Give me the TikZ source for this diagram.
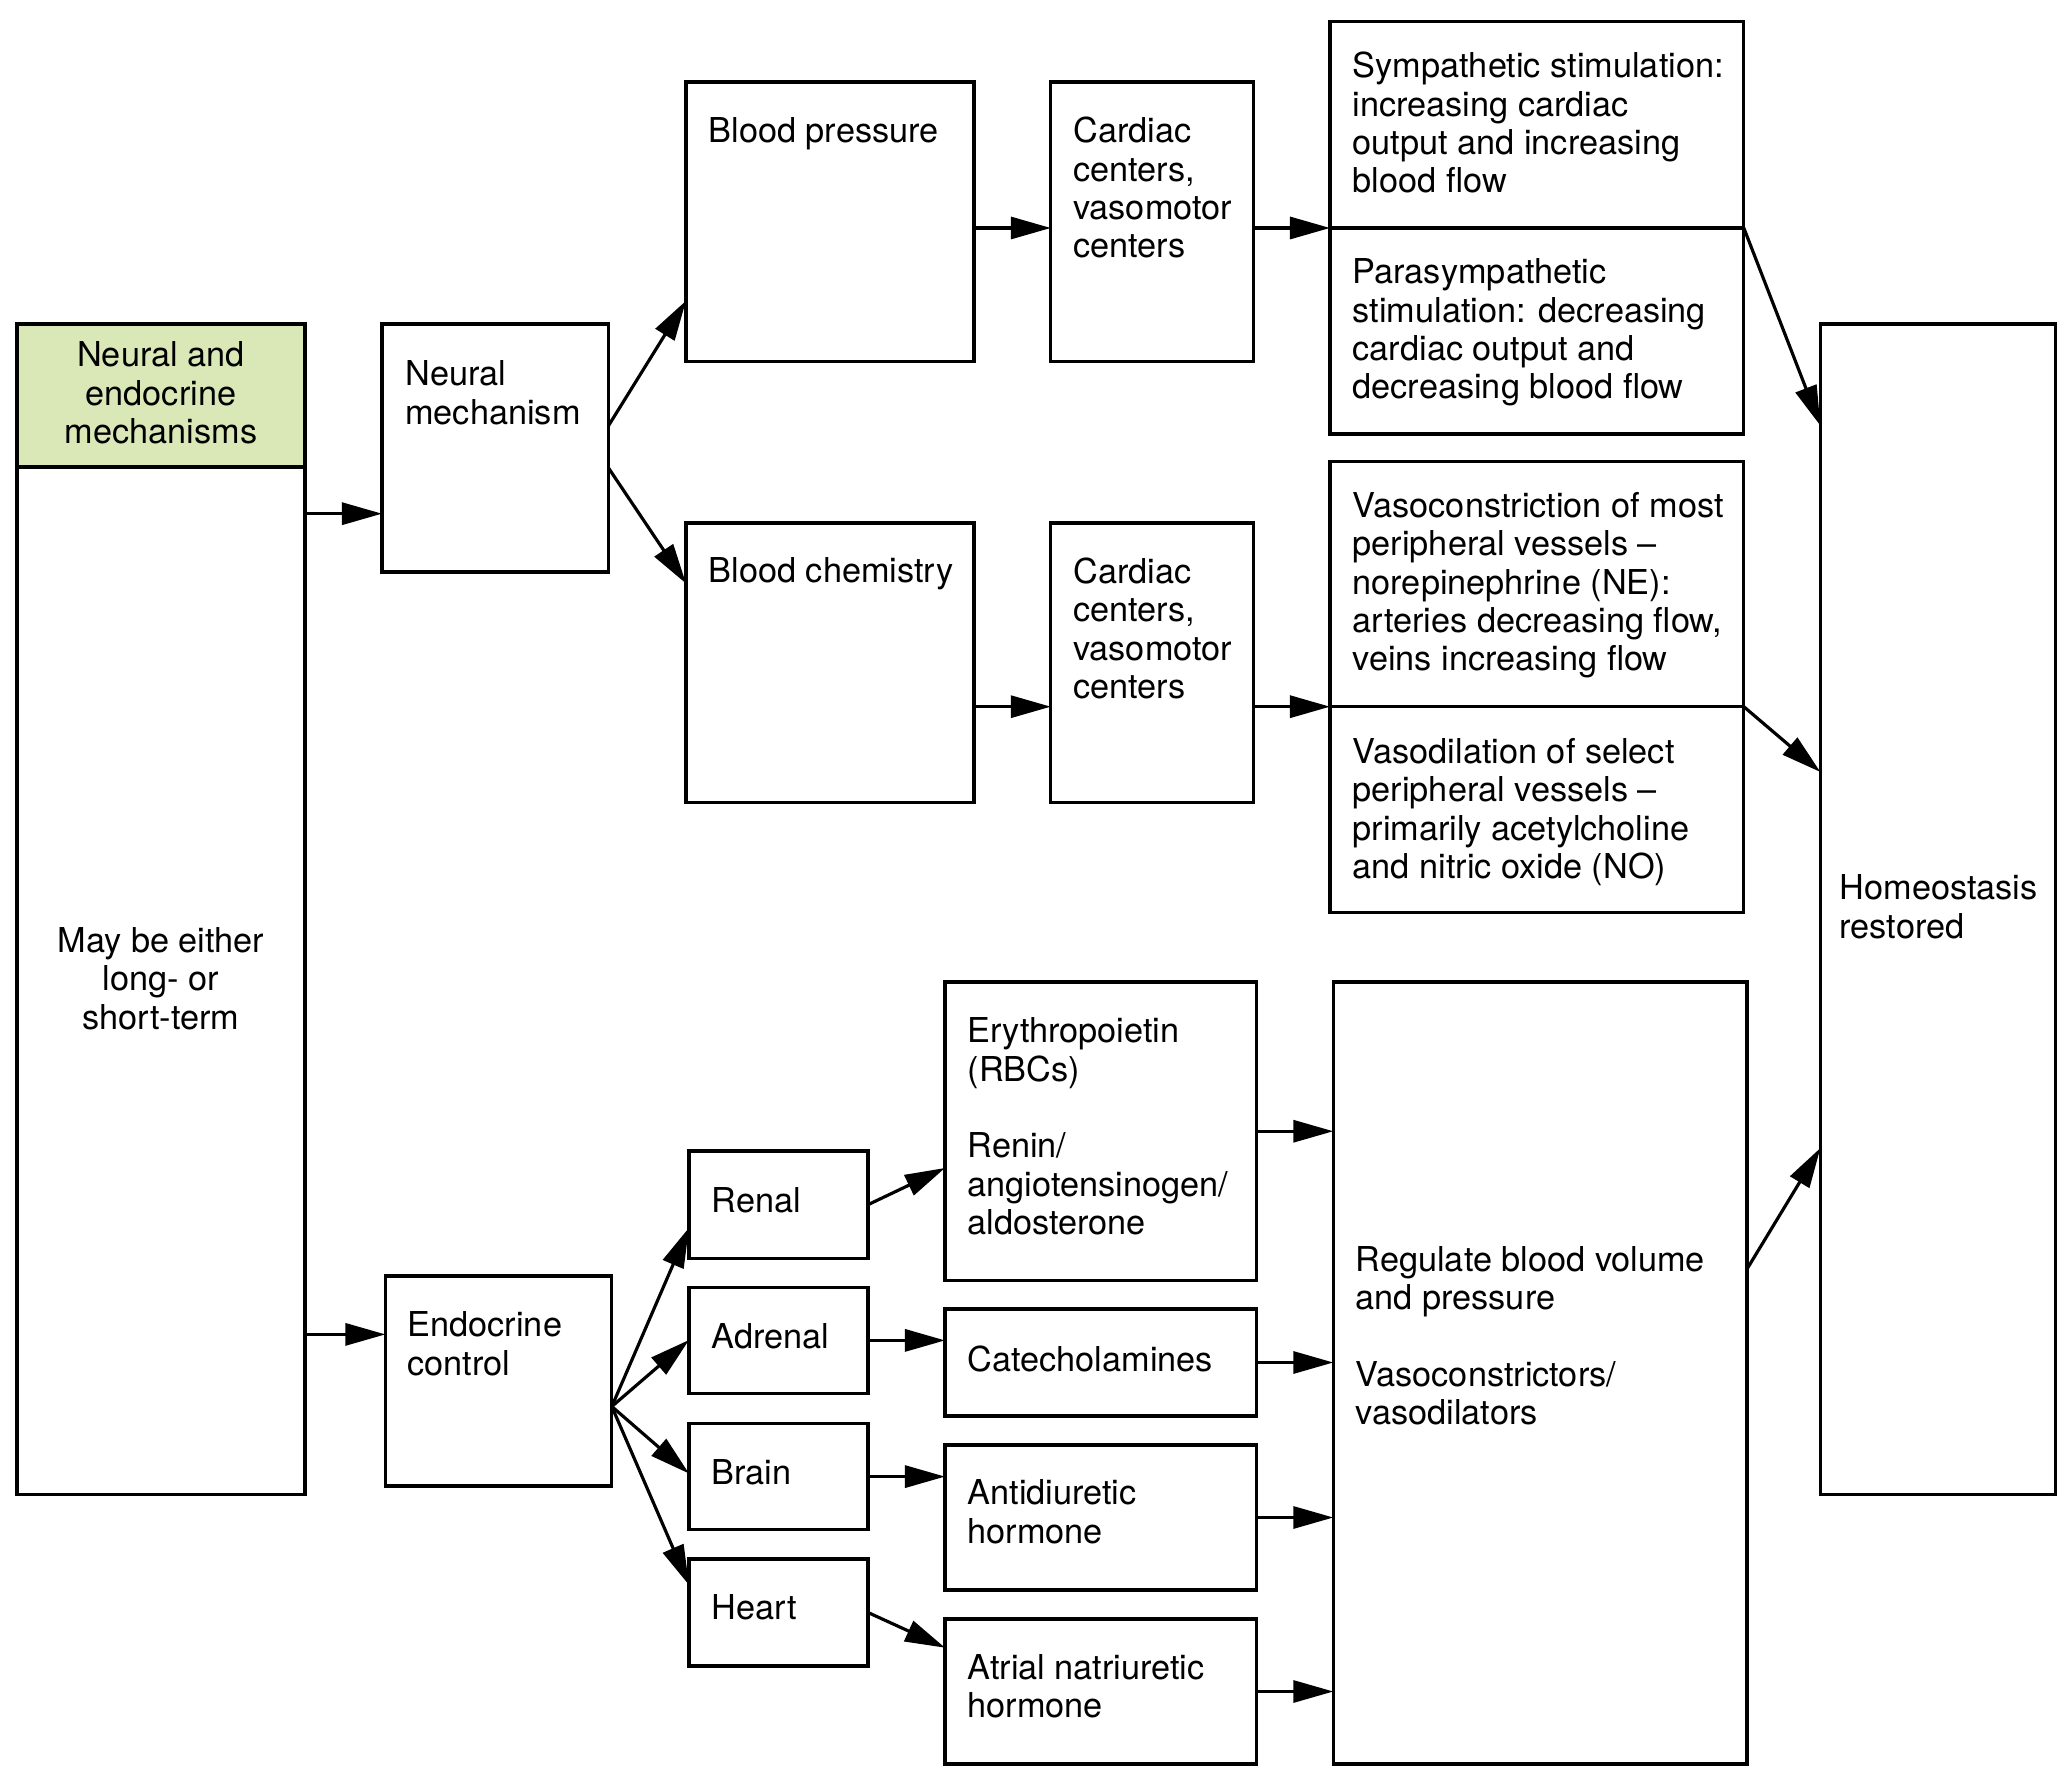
\documentclass[tikz,border=0pt]{standalone}
\usepackage{fontspec}
\setmainfont{TeX Gyre Heros}
\usetikzlibrary{fit,arrows.meta}
\newcommand\mlL[1]{\vtop{\halign{##\hfil\cr#1\crcr}}}
\newcommand\mlC[1]{\vtop{\halign{\hfil##\hfil\cr#1\crcr}}}
\newcommand\fs{\fontsize{9.75pt}{10.9pt}\selectfont}
\definecolor{hdr}{RGB}{218,232,183}
\tikzset{
  box/.style={draw, line width=0.95pt, inner sep=0pt, outer sep=0pt},
  arr/.style={line width=0.9pt, -{Triangle[length=4mm,width=2.2mm]}},
  lbl/.style={anchor=base west, inner sep=0pt, font=\fs},
  clbl/.style={anchor=base, inner sep=0pt, font=\fs},
}
\begin{document}
\begin{tikzpicture}[x=0.01cm, y=-0.01cm]
\fill[white] (0,0) rectangle (2070,1780);
\useasboundingbox (0,0) rectangle (2070,1780);
% boxes
\node[box, fill=hdr, fit={(17,324) (305,467)}] (L1) {};
\node[box, fit={(17,467) (305,1494.5)}] (L2) {};
\node[box, fit={(382,324) (608.5,572)}] (NM) {};
\node[box, fit={(686,82) (974,361.6)}] (BP) {};
\node[box, fit={(686,523) (974,802.6)}] (BC) {};
\node[box, fit={(1050.8,82) (1253.5,361.6)}] (CC1) {};
\node[box, fit={(1050.8,523) (1253.5,802.6)}] (CC2) {};
\node[box, fit={(1330,21.6) (1743.8,228)}] (SP1) {};
\node[box, fit={(1330,228) (1743.8,434)}] (SP2) {};
\node[box, fit={(1330,461.5) (1743.8,706.7)}] (VC1) {};
\node[box, fit={(1330,706.7) (1743.8,912.7)}] (VC2) {};
\node[box, fit={(1820.4,324) (2055.4,1494.5)}] (HR) {};
\node[box, fit={(385.4,1276) (611.8,1486)}] (EC) {};
\node[box, fit={(689,1151) (868,1258.4)}] (Renal) {};
\node[box, fit={(689,1287.3) (868,1393.5)}] (Adrenal) {};
\node[box, fit={(689,1423.5) (868,1529.7)}] (Brain) {};
\node[box, fit={(689,1559) (868,1666)}] (Heart) {};
\node[box, fit={(945,982) (1256.8,1280.5)}] (Ery) {};
\node[box, fit={(945,1309) (1256.8,1416)}] (Cat) {};
\node[box, fit={(945,1445) (1256.8,1590)}] (ADH) {};
\node[box, fit={(945,1619) (1256.8,1764)}] (ANH) {};
\node[box, fit={(1333.3,982) (1747,1764)}] (Reg) {};
% labels
\node[clbl] (tL1) at (161,367) {\mlC{Neural and\cr endocrine\cr mechanisms}};
\node[clbl] (tL2) at (161,952.4) {\mlC{May be either\cr long- or\cr short-term}};
\node[lbl] (tNM) at (404.6,386) {\mlL{Neural\cr mechanism}};
\node[lbl] (tBP) at (708,143) {\mlL{Blood pressure}};
\node[lbl] (tBC) at (708,583) {\mlL{Blood chemistry}};
\node[lbl] (tCC1) at (1072.6,143) {\mlL{Cardiac\cr centers,\cr vasomotor\cr centers}};
\node[lbl] (tCC2) at (1072.6,583.5) {\mlL{Cardiac\cr centers,\cr vasomotor\cr centers}};
\node[lbl] (tSP1) at (1352,78) {\mlL{Sympathetic stimulation:\cr increasing cardiac\cr output and increasing\cr blood flow}};
\node[lbl] (tSP2) at (1352,284) {\mlL{Parasympathetic\cr stimulation: decreasing\cr cardiac output and\cr decreasing blood flow}};
\node[lbl] (tVC1) at (1352,517.6) {\mlL{Vasoconstriction of most\cr peripheral vessels –\cr norepinephrine (NE):\cr arteries decreasing flow,\cr veins increasing flow}};
\node[lbl] (tVC2) at (1352,763.4) {\mlL{Vasodilation of select\cr peripheral vessels –\cr primarily acetylcholine\cr and nitric oxide (NO)}};
\node[lbl] (tHR) at (1839,900) {\mlL{Homeostasis\cr restored}};
\node[lbl] (tEC) at (407,1336.7) {\mlL{Endocrine\cr control}};
\node[lbl] (tRenal) at (711,1212.4) {\mlL{Renal}};
\node[lbl] (tAdrenal) at (711,1348) {\mlL{Adrenal}};
\node[lbl] (tBrain) at (711,1484) {\mlL{Brain}};
\node[lbl] (tHeart) at (711,1619.4) {\mlL{Heart}};
\node[lbl] (tEry) at (967,1043) {\mlL{Erythropoietin\cr (RBCs)\cr\cr Renin/\cr angiotensinogen/\cr aldosterone}};
\node[lbl] (tCat) at (967,1371) {\mlL{Catecholamines}};
\node[lbl] (tADH) at (967,1504.7) {\mlL{Antidiuretic\cr hormone}};
\node[lbl] (tANH) at (967,1679) {\mlL{Atrial natriuretic\cr hormone}};
\node[lbl] (tReg) at (1355,1271.4) {\mlL{Regulate blood volume\cr and pressure\cr\cr Vasoconstrictors/\cr vasodilators}};
% connectors
\draw[arr] (L2.east |- 0,513.7) -- (NM.west |- 0,513.7);
\draw[arr] (NM.east |- 0,425.7) -- (BP.west |- 0,300.8);
\draw[arr] (NM.east |- 0,468) -- (BC.west |- 0,583.5);
\draw[arr] (BP.east |- 0,228) -- (CC1.west |- 0,228);
\draw[arr] (BC.east |- 0,706.7) -- (CC2.west |- 0,706.7);
\draw[arr] (CC1.east |- 0,228) -- (SP1.south west);
\draw[arr] (CC2.east |- 0,706.7) -- (VC1.south west);
\draw[arr] (SP1.south east) -- (HR.west |- 0,425.7);
\draw[arr] (VC1.south east) -- (HR.west |- 0,772);
\draw[arr] (L2.east |- 0,1334.4) -- (EC.west |- 0,1334.4);
\draw[arr] (EC.east |- 0,1406.5) -- (Renal.west |- 0,1227.7);
\draw[arr] (EC.east |- 0,1406.5) -- (Adrenal.west |- 0,1340);
\draw[arr] (EC.east |- 0,1406.5) -- (Brain.west |- 0,1473.5);
\draw[arr] (EC.east |- 0,1406.5) -- (Heart.west |- 0,1585);
\draw[arr] (Renal.east) -- (Ery.west |- 0,1168);
\draw[arr] (Adrenal.east) -- (Cat.west |- Adrenal.east);
\draw[arr] (Brain.east) -- (ADH.west |- Brain.east);
\draw[arr] (Heart.east) -- (ANH.west |- 0,1647.7);
\draw[arr] (Ery.east) -- (Reg.west |- Ery.east);
\draw[arr] (Cat.east) -- (Reg.west |- Cat.east);
\draw[arr] (ADH.east) -- (Reg.west |- ADH.east);
\draw[arr] (ANH.east) -- (Reg.west |- ANH.east);
\draw[arr] (Reg.east |- 0,1269) -- (HR.west |- 0,1148);
\end{tikzpicture}
\end{document}
